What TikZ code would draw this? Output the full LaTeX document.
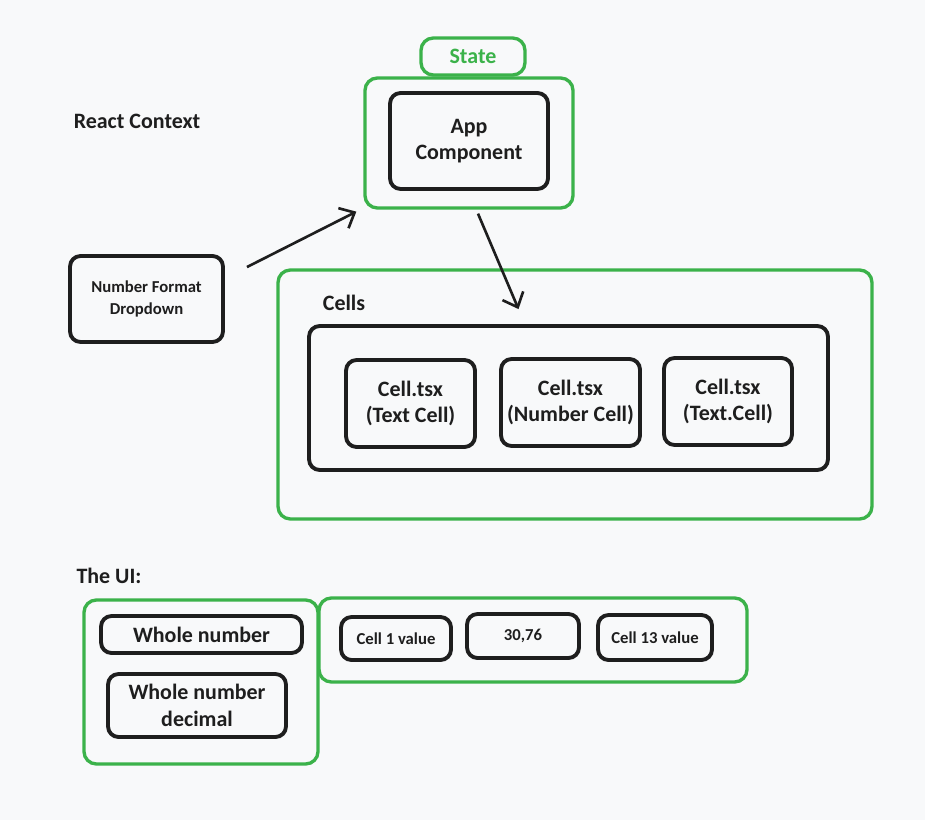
\documentclass[tikz,border=0pt]{standalone}
\usepackage{fontspec}
\setmainfont{Carlito}
\usetikzlibrary{arrows.meta,positioning}
\definecolor{boxgreen}{RGB}{59,178,74}
\definecolor{paper}{RGB}{248,249,250}
\definecolor{ink}{RGB}{30,30,30}
\tikzset{
  greenbox/.style={draw=boxgreen, line width=1.9pt, rounded corners=7pt, align=center},
  inkbox/.style={draw=ink, line width=2.2pt, rounded corners=6pt, align=center, text=ink, font=\bfseries\fontsize{12.5}{15}\selectfont},
  smallbox/.style={inkbox, font=\bfseries\fontsize{9.5}{12.5}\selectfont},
  heading/.style={text=ink, font=\bfseries\fontsize{12.5}{15}\selectfont},
  flow/.style={draw=ink, line width=1.5pt, -{Straight Barb[length=2.5mm,width=4.5mm]}}
}

\begin{document}
\begin{tikzpicture}[x=0.02cm,y=-0.02cm]
\fill[paper] (0,0) rectangle (925,820);
\useasboundingbox (0,0) rectangle (925,820);
% context part
\node[heading] (ctxlabel) at (137,121) {React Context};
\node[greenbox, minimum width=2.08cm, minimum height=0.74cm, text=boxgreen, font=\bfseries\fontsize{12.5}{15}\selectfont] (state) at (473,56.5) {State};
\node[greenbox, minimum width=4.16cm, minimum height=2.6cm] (appouter) at (469,143) {};
\node[inkbox, minimum width=3.16cm, minimum height=1.92cm] (app) at (469,141) {App\\Component};
\node[smallbox, minimum width=3.06cm, minimum height=1.72cm] (dropdown) at (146.5,299) {Number Format\\Dropdown};
\node[greenbox, minimum width=11.88cm, minimum height=4.98cm] (cells) at (575,394.5) {};
\node[heading] (cellslabel) at (344,303) {Cells};
\node[inkbox, minimum width=10.38cm, minimum height=2.88cm] (cellrow) at (568.5,398) {};
\node[inkbox, minimum width=2.58cm, minimum height=1.74cm] (textcell) at (410.5,403.5) {Cell.tsx\\(Text Cell)};
\node[inkbox, minimum width=2.78cm, minimum height=1.74cm] (numcell) at (570.5,402.5) {Cell.tsx\\(Number Cell)};
\node[inkbox, minimum width=2.56cm, minimum height=1.74cm] (textcelltwo) at (728,401.5) {Cell.tsx\\(Text.Cell)};
\draw[flow] ([shift={(22,13)}]dropdown.north east) -- ([shift={(-7,2)}]appouter.south west);
\draw[flow] ([shift={(9,4)}]appouter.south) -- ([shift={(-50,-15)}]cellrow.north);
% the ui
\node[heading] (uilabel) at (109,576) {The UI:};
\node[greenbox, minimum width=4.68cm, minimum height=3.28cm] (uileft) at (201,682) {};
\node[inkbox, minimum width=4.02cm, minimum height=0.74cm] (whole) at (201.5,634.5) {Whole number};
\node[inkbox, minimum width=3.56cm, minimum height=1.26cm] (decimal) at (197,705.5) {Whole number\\decimal};
\node[greenbox, minimum width=8.56cm, minimum height=1.68cm] (uiright) at (533,640) {};
\node[smallbox, minimum width=2.2cm, minimum height=0.86cm] (valone) at (396,638.5) {Cell 1 value};
\node[smallbox, minimum width=2.24cm, minimum height=0.88cm] (valtwo) at (523,636) {30,76};
\node[smallbox, minimum width=2.28cm, minimum height=0.9cm] (valthree) at (655,637.5) {Cell 13 value};
\end{tikzpicture}
\end{document}
